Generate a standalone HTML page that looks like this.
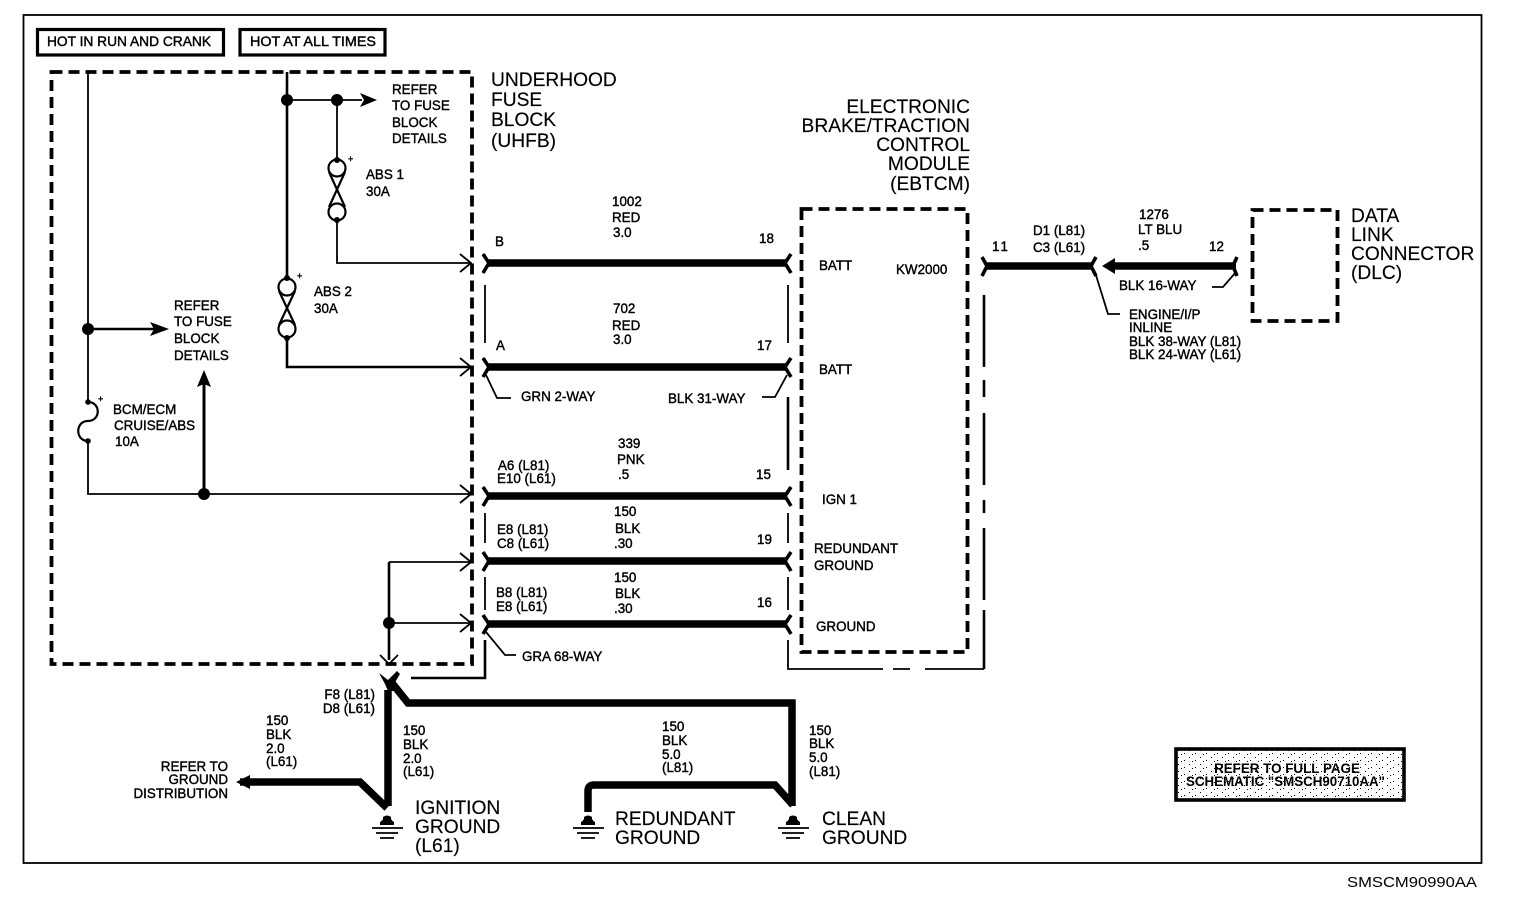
<!DOCTYPE html>
<html><head><meta charset="utf-8"><title>Schematic</title>
<style>
html,body{margin:0;padding:0;background:#fff}
svg{display:block}
text{font-family:"Liberation Sans",sans-serif;fill:#000}
.s text{font-size:13.4px;stroke:#000;stroke-width:.4}
.l text{font-size:19.2px;stroke:#000;stroke-width:.15}
.w{stroke-width:7.5;fill:none;stroke:#000}
.t{stroke-width:1.8;fill:none;stroke:#000}
.c{stroke-width:3.6;fill:none;stroke:#000}
.m{stroke-width:2.6;fill:none;stroke:#000}
.d{stroke-width:3.8;fill:none;stroke:#000;stroke-dasharray:11 6}
</style></head><body>
<svg width="1520" height="904" viewBox="0 0 1520 904" xmlns="http://www.w3.org/2000/svg">
<defs>
<pattern id="sp" width="11" height="7" patternUnits="userSpaceOnUse"><rect x="1" y="1" width="1" height="1" fill="#000"/><rect x="7" y="4" width="1" height="1" fill="#000"/><rect x="4" y="5" width="1" height="1" fill="#000"/></pattern>
</defs>
<rect width="1520" height="904" fill="#fff"/>
<rect x="23.5" y="15" width="1458" height="848" fill="none" stroke="#000" stroke-width="1.8"/>
<rect x="37.5" y="29.5" width="186" height="25.5" fill="none" stroke="#000" stroke-width="3.2"/>
<rect x="240" y="29.5" width="145" height="25.5" fill="none" stroke="#000" stroke-width="3.2"/>

<rect class="d" x="51.5" y="72" width="420.5" height="592"/>
<rect class="d" x="801.5" y="209" width="166" height="443"/>
<rect class="d" x="1252.5" y="210" width="85" height="111"/>

<!-- internal circuits -->
<path class="t" d="M88 72V402M88 441V494H470M337 100V160M337 220V263H470M287 100H362M389 562H470M389 623H470"/>
<path class="m" d="M88 329H155M287 72V278M287 338V367H470M389 562V660"/>
<path class="m" d="M204 494V384" style="stroke-width:3"/>
<path class="t" d="M460 254L471 263L460 272M460 358L471 367L460 376M460 485L471 494L460 503M460 553L471 562L460 571M460 614L471 623L460 632M380 655L389 664L398 655"/>
<g>
<circle cx="88" cy="329" r="6"/><circle cx="204" cy="494" r="6"/><circle cx="287" cy="100" r="6"/><circle cx="337" cy="100" r="6"/><circle cx="389" cy="623" r="6"/>
<circle cx="88" cy="402" r="2.8"/><circle cx="88" cy="441" r="2.8"/><circle cx="337" cy="160" r="3"/><circle cx="337" cy="220" r="3"/><circle cx="287" cy="278" r="3"/><circle cx="287" cy="338" r="3"/>
<path d="M360 93L377 100L360 107L364 100ZM150 322L169 329L150 336L154 329ZM197 387L204 370L211 387L204 384Z"/>
</g>
<!-- fuses -->
<path fill="none" stroke="#000" stroke-width="2.2" d="M88 402C101 402 101 421 88 421C75 421 75 441 88 441"/>
<g fill="none" stroke="#000" stroke-width="2.2">
<circle cx="337" cy="168" r="8.5"/><circle cx="337" cy="212" r="8.5"/><path d="M329 172L345 207M345 172L329 207"/>
<circle cx="287" cy="287" r="8.5"/><circle cx="287" cy="329" r="8.5"/><path d="M279 291L295 325M295 291L279 325"/>
</g>

<!-- thick harness wires -->
<path class="w" d="M487 263H786M487 367H786M487 496H786M487 561H786M487 624H786M986 266H1092M1110 266H1236"/>
<path d="M1102 266L1115 258V274Z"/>
<path class="c" d="M483 254L489 263L483 273M791 254L785 263L791 273M483 358L489 367L483 377M791 358L785 367L791 377M483 487L489 496L483 506M791 487L785 496L791 506M483 552L489 561L483 571M791 552L785 561L791 571M483 615L489 624L483 634M791 615L785 624L791 634M982 257L987 266L982 276M1096 257L1091 266L1096 276M1237 257L1233 266L1237 276"/>

<!-- connector borders -->
<path class="t" d="M485 285V343M485 513V543M485 577V610M788 285V343M788 513V543M788 577V610M788 640V669H883M893 669H910M925 669H984"/>
<path class="m" d="M485 640V678H411M788 397V470M984 669V610M984 600V528M984 513V500M984 485V413M984 397V380M984 367V295"/>
<path class="t" d="M486 375L497 398H511M787 375L775 397H762M486 632L505 655H516M1095 272L1108 314H1120M1236 272L1223 287H1212"/>

<!-- bottom ground wiring -->
<path class="w" d="M388 806V690M392 683L408 703H792V806M588 812V791Q588 785 594 785H775L793 805M240 782H360L387 808"/>
<path d="M236 782L250 775V789ZM379 673L388 680L397 671L400 674L394 684L401 691L388 691L385 684Z"/>
<g>
<path d="M380 825V822Q382 821 383 819V817Q387 814 391 817V819Q392 821 394 822V825Z"/>
<path stroke="#000" stroke-width="1.8" d="M372 828H403M376 833H398M380 838H394"/>
<path d="M581 825V822Q583 821 584 819V817Q588 814 592 817V819Q593 821 595 822V825Z"/>
<path stroke="#000" stroke-width="1.8" d="M573 828H604M577 833H599M581 838H595"/>
<path d="M786 825V822Q788 821 789 819V817Q793 814 797 817V819Q798 821 800 822V825Z"/>
<path stroke="#000" stroke-width="1.8" d="M778 828H809M782 833H804M786 838H800"/>
</g>

<!-- refer box -->
<rect x="1176" y="749" width="228" height="51" fill="url(#sp)" stroke="#000" stroke-width="3.6"/>

<g class="s">
<text x="47" y="46" textLength="164" lengthAdjust="spacingAndGlyphs">HOT IN RUN AND CRANK</text>
<text x="250" y="46" textLength="126" lengthAdjust="spacingAndGlyphs">HOT AT ALL TIMES</text>
<text x="392" y="94">REFER</text><text x="392" y="110">TO FUSE</text><text x="392" y="127">BLOCK</text><text x="392" y="143">DETAILS</text>
<text x="366" y="179">ABS 1</text><text x="366" y="196">30A</text>
<text x="314" y="296">ABS 2</text><text x="314" y="313">30A</text>
<text x="348" y="162" style="font-size:9px">+</text><text x="297" y="279" style="font-size:9px">+</text><text x="98" y="402" style="font-size:9px">+</text>
<text x="174" y="310">REFER</text><text x="174" y="326">TO FUSE</text><text x="174" y="343">BLOCK</text><text x="174" y="360">DETAILS</text>
<text x="113" y="414">BCM/ECM</text><text x="114" y="430">CRUISE/ABS</text><text x="115" y="446">10A</text>

<text x="612" y="206">1002</text><text x="612" y="222">RED</text><text x="613" y="237">3.0</text>
<text x="495" y="246">B</text><text x="759" y="243">18</text>
<text x="613" y="313">702</text><text x="612" y="330">RED</text><text x="613" y="344">3.0</text>
<text x="496" y="350">A</text><text x="757" y="350">17</text>
<text x="521" y="401">GRN 2-WAY</text><text x="668" y="403">BLK 31-WAY</text>
<text x="618" y="448">339</text><text x="617" y="464">PNK</text><text x="618" y="479">.5</text>
<text x="498" y="470">A6 (L81)</text><text x="497" y="483">E10 (L61)</text><text x="756" y="479">15</text>
<text x="614" y="516">150</text><text x="615" y="533">BLK</text><text x="614" y="548">.30</text>
<text x="497" y="534">E8 (L81)</text><text x="497" y="548">C8 (L61)</text><text x="757" y="544">19</text>
<text x="614" y="582">150</text><text x="615" y="598">BLK</text><text x="614" y="613">.30</text>
<text x="496" y="597">B8 (L81)</text><text x="496" y="611">E8 (L61)</text><text x="757" y="607">16</text>
<text x="522" y="661">GRA 68-WAY</text>
<text x="819" y="270">BATT</text><text x="896" y="274">KW2000</text><text x="819" y="374">BATT</text>
<text x="822" y="504">IGN 1</text><text x="814" y="553">REDUNDANT</text><text x="814" y="570">GROUND</text><text x="816" y="631">GROUND</text>

<text x="992" y="251" letter-spacing="2">11</text>
<text x="1033" y="235">D1 (L81)</text><text x="1033" y="252">C3 (L61)</text>
<text x="1139" y="219">1276</text><text x="1138" y="234">LT BLU</text><text x="1138" y="250">.5</text><text x="1209" y="251">12</text>
<text x="1119" y="290">BLK 16-WAY</text>
<text x="1129" y="319">ENGINE/I/P</text><text x="1129" y="332">INLINE</text><text x="1129" y="346">BLK 38-WAY (L81)</text><text x="1129" y="359">BLK 24-WAY (L61)</text>

<text x="266" y="725">150</text><text x="266" y="739">BLK</text><text x="266" y="753">2.0</text><text x="266" y="766">(L61)</text>
<text x="375" y="699" text-anchor="end">F8 (L81)</text><text x="375" y="713" text-anchor="end">D8 (L61)</text>
<text x="403" y="735">150</text><text x="403" y="749">BLK</text><text x="403" y="763">2.0</text><text x="403" y="776">(L61)</text>
<text x="228" y="771" text-anchor="end">REFER TO</text><text x="228" y="784" text-anchor="end">GROUND</text><text x="228" y="798" text-anchor="end">DISTRIBUTION</text>
<text x="662" y="731">150</text><text x="662" y="745">BLK</text><text x="662" y="759">5.0</text><text x="662" y="772">(L81)</text>
<text x="809" y="735">150</text><text x="809" y="748">BLK</text><text x="809" y="762">5.0</text><text x="809" y="776">(L81)</text>
<text x="1287" y="773" text-anchor="middle" style="font-weight:bold;stroke-width:0">REFER TO FULL PAGE</text>
<text x="1186" y="786" textLength="199" lengthAdjust="spacingAndGlyphs" style="font-weight:bold;stroke-width:0">SCHEMATIC "SMSCH90710AA"</text>
</g>

<g class="l">
<text x="491" y="86">UNDERHOOD</text><text x="491" y="106">FUSE</text><text x="491" y="126">BLOCK</text><text x="491" y="147">(UHFB)</text>
<text x="970" y="113" text-anchor="end">ELECTRONIC</text><text x="970" y="132" text-anchor="end">BRAKE/TRACTION</text><text x="970" y="151" text-anchor="end">CONTROL</text><text x="970" y="170" text-anchor="end">MODULE</text><text x="970" y="190" text-anchor="end">(EBTCM)</text>
<text x="1351" y="222">DATA</text><text x="1351" y="241">LINK</text><text x="1351" y="260">CONNECTOR</text><text x="1351" y="279">(DLC)</text>
<text x="415" y="814">IGNITION</text><text x="415" y="833">GROUND</text><text x="415" y="852">(L61)</text>
<text x="615" y="825">REDUNDANT</text><text x="615" y="844">GROUND</text>
<text x="822" y="825">CLEAN</text><text x="822" y="844">GROUND</text>
</g>
<text x="1347" y="887" textLength="130" lengthAdjust="spacingAndGlyphs" style="font-size:15px">SMSCM90990AA</text>
</svg>
</body></html>
